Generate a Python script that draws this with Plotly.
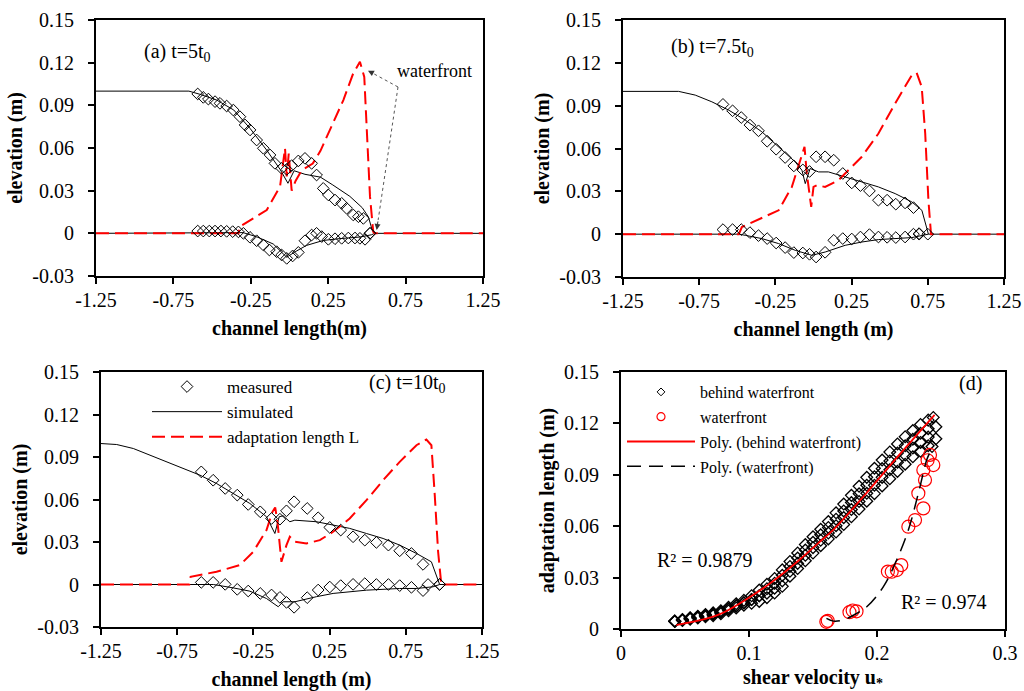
import plotly.graph_objects as go

FONT = "Liberation Serif"

# ---------------- panel (a) t = 5 t0 ----------------
a_meas_up_x = [-0.593, -0.557, -0.524, -0.481, -0.449, -0.406, -0.363, -0.320, -0.287, -0.255, -0.212, -0.169,
               -0.126, -0.094, -0.051, -0.018, 0.014, 0.057, 0.100, 0.143, 0.175, 0.218, 0.251, 0.294, 0.337,
               0.369, 0.412, 0.445, 0.477, 0.520]
a_meas_up_y = [0.098, 0.0956, 0.0944, 0.0926, 0.0914, 0.0895, 0.0867, 0.082, 0.0762, 0.0727, 0.0656, 0.0598,
               0.0551, 0.0492, 0.0457, 0.045, 0.0476, 0.0509, 0.0527, 0.0492, 0.041, 0.0316, 0.027, 0.0234, 0.0211,
               0.0176, 0.0129, 0.0117, 0.0105, 0.0]
a_meas_lo_x = [-0.593, -0.557, -0.518, -0.481, -0.443, -0.406, -0.367, -0.330, -0.298, -0.255, -0.212, -0.169,
               -0.130, -0.083, -0.051, -0.018, 0.020, 0.057, 0.100, 0.143, 0.175, 0.208, 0.251, 0.294, 0.337,
               0.380, 0.423, 0.455, 0.488, 0.520]
a_meas_lo_y = [0.0016, 0.0016, 0.0016, 0.0016, 0.0016, 0.0014, 0.0012, 0.001, 0.0, -0.0028, -0.0052, -0.0082,
               -0.0117, -0.0129, -0.0152, -0.0176, -0.0159, -0.0134, -0.0052, -0.0012, 0.0, -0.0023, -0.0042,
               -0.0038, -0.0035, -0.0033, -0.0033, -0.0035, -0.0042, 0.0]
a_sim_up_x = [-1.25, -0.65, -0.58, -0.47, -0.36, -0.255, -0.148, -0.061, -0.01, 0.03, 0.10, 0.20, 0.28, 0.39,
              0.47, 0.51, 0.535, 0.55]
a_sim_up_y = [0.1, 0.1, 0.0978, 0.0937, 0.0867, 0.0738, 0.0586, 0.0450, 0.0352, 0.0440, 0.0415, 0.0395, 0.034,
              0.026, 0.018, 0.0115, 0.002, 0.0]
a_sim_lo_x = [-1.25, -0.36, -0.30, -0.212, -0.105, -0.018, 0.036, 0.11, 0.218, 0.326, 0.455, 0.53, 0.55, 1.25]
a_sim_lo_y = [0.0, 0.0, 0.0005, -0.0024, -0.0075, -0.0168, -0.013, -0.0085, -0.005, -0.0037, -0.0026, -0.001,
              0.0, 0.0]
a_L_x = [-1.25, -0.33, -0.32, -0.147, -0.061, -0.029, -0.018, -0.005, 0.014, 0.04, 0.08, 0.15, 0.20, 0.24, 0.30,
         0.348, 0.41, 0.455, 0.483, 0.499, 0.520, 0.541, 0.55, 1.25]
a_L_y = [0.0, 0.0, 0.0047, 0.0164, 0.0330, 0.0598, 0.040, 0.056, 0.030, 0.037, 0.0445, 0.049, 0.058, 0.068, 0.082,
         0.0937, 0.112, 0.1207, 0.110, 0.0727, 0.0258, 0.001, 0.0, 0.0]

# ---------------- panel (b) t = 7.5 t0 ----------------
b_meas_up_x = [-0.594, -0.531, -0.474, -0.417, -0.361, -0.304, -0.245, -0.186, -0.129, -0.070, -0.026, 0.017,
               0.076, 0.133, 0.192, 0.251, 0.308, 0.367, 0.426, 0.483, 0.540, 0.601, 0.656, 0.693, 0.750]
b_meas_up_y = [0.0909, 0.0864, 0.0817, 0.0764, 0.0724, 0.0651, 0.0595, 0.0537, 0.0478, 0.045, 0.0439, 0.0542,
               0.0542, 0.0518, 0.0425, 0.0359, 0.034, 0.0303, 0.0238, 0.0238, 0.021, 0.0219, 0.0186, 0.0004, 0.0]
b_meas_lo_x = [-0.594, -0.531, -0.474, -0.417, -0.361, -0.304, -0.245, -0.186, -0.129, -0.070, -0.026, 0.017,
               0.076, 0.133, 0.192, 0.251, 0.308, 0.367, 0.426, 0.483, 0.540, 0.601, 0.656, 0.693]
b_meas_lo_y = [0.0032, 0.0032, 0.0032, 0.0011, -0.001, -0.0031, -0.0062, -0.0094, -0.0129, -0.0132, -0.0141,
               -0.016, -0.0127, -0.0043, -0.0031, -0.0034, -0.002, -0.0003, -0.002, -0.0022, -0.0024, -0.002,
               0.0, 0.0]
b_sim_up_x = [-1.25, -0.885, -0.776, -0.667, -0.557, -0.448, -0.339, -0.229, -0.120, -0.076, -0.054, -0.022,
              0.033, 0.098, 0.208, 0.317, 0.426, 0.536, 0.645, 0.711, 0.733, 0.754]
b_sim_up_y = [0.1, 0.1, 0.0974, 0.0927, 0.0869, 0.0799, 0.0717, 0.0612, 0.0506, 0.0448, 0.0354, 0.046, 0.0436,
              0.0436, 0.0401, 0.0366, 0.0331, 0.0284, 0.0226, 0.0167, 0.0085, 0.0]
b_sim_lo_x = [-1.25, -0.49, -0.448, -0.339, -0.229, -0.12, -0.011, 0.077, 0.208, 0.317, 0.426, 0.536, 0.645,
              0.754, 1.25]
b_sim_lo_y = [0.0, 0.0, -0.0008, -0.0031, -0.0066, -0.0113, -0.0148, -0.0125, -0.0078, -0.0055, -0.0038,
              -0.0029, -0.0024, 0.0, 0.0]
b_L_x = [-1.25, -0.49, -0.47, -0.229, -0.142, -0.076, -0.059, -0.044, -0.015, 0.0, 0.022, 0.076, 0.164, 0.317,
         0.426, 0.536, 0.645, 0.677, 0.71, 0.733, 0.754, 0.771, 1.25]
b_L_y = [0.0, 0.0, 0.005, 0.0167, 0.0331, 0.0542, 0.0612, 0.0425, 0.0191, 0.0331, 0.0343, 0.0331, 0.0378, 0.0542,
         0.0705, 0.0916, 0.1114, 0.113, 0.1032, 0.0705, 0.0238, 0.0, 0.0]

# ---------------- panel (c) t = 10 t0 ----------------
c_meas_up_x = [-0.592, -0.514, -0.435, -0.356, -0.284, -0.205, -0.131, -0.076, -0.033, 0.017, 0.103, 0.175,
               0.251, 0.323, 0.404, 0.481, 0.557, 0.636, 0.710, 0.787, 0.863, 0.972]
c_meas_up_y = [0.0795, 0.0736, 0.0678, 0.0631, 0.0565, 0.0513, 0.0466, 0.0461, 0.052, 0.0584, 0.0537, 0.0471,
               0.0403, 0.0384, 0.0337, 0.0313, 0.0297, 0.0278, 0.0238, 0.0219, 0.0142, 0.0001]
c_meas_lo_x = [-0.592, -0.514, -0.435, -0.356, -0.284, -0.205, -0.131, -0.076, -0.033, 0.017, 0.103, 0.175,
               0.251, 0.323, 0.404, 0.481, 0.557, 0.636, 0.710, 0.787, 0.863, 0.896, 0.972]
c_meas_lo_y = [0.0015, 0.0015, 0.0001, -0.0034, -0.0046, -0.0063, -0.0074, -0.0091, -0.0126, -0.0161, -0.0093,
               -0.0039, -0.0018, -0.0008, 0.0001, 0.0006, 0.0, 0.0, -0.0008, -0.002, -0.0043, 0.0, 0.0]
c_sim_up_x = [-1.25, -1.147, -1.038, -0.929, -0.82, -0.71, -0.601, -0.492, -0.382, -0.273, -0.164, -0.109,
              -0.081, -0.055, -0.011, 0.022, 0.164, 0.273, 0.382, 0.492, 0.601, 0.71, 0.82, 0.918, 0.951, 0.972]
c_sim_up_y = [0.0995, 0.0988, 0.096, 0.0913, 0.0866, 0.0819, 0.0772, 0.0713, 0.0642, 0.0572, 0.0478, 0.036,
              0.0478, 0.0485, 0.0443, 0.0454, 0.0443, 0.0419, 0.0396, 0.036, 0.0325, 0.0278, 0.0219, 0.016,
              0.0066, 0.0]
c_sim_lo_x = [-1.25, -0.513, -0.382, -0.273, -0.164, -0.087, -0.055, 0.022, 0.164, 0.273, 0.492, 0.71, 0.82,
              0.929, 0.972, 1.25]
c_sim_lo_y = [0.0, 0.0, -0.0024, -0.0047, -0.0099, -0.0157, -0.0122, -0.0122, -0.0086, -0.0063, -0.004, -0.0028,
              -0.0028, -0.0016, 0.0, 0.0]
c_L_x = [-1.25, -0.671, -0.662, -0.492, -0.339, -0.251, -0.164, -0.125, -0.107, -0.092, -0.066, -0.033, -0.011,
         0.022, 0.098, 0.186, 0.273, 0.382, 0.492, 0.601, 0.71, 0.82, 0.885, 0.918, 0.94, 0.962, 0.983, 1.25]
c_L_y = [0.0, 0.0, 0.0054, 0.009, 0.0137, 0.0231, 0.0384, 0.0513, 0.0544, 0.0443, 0.016, 0.0278, 0.0337, 0.0302,
         0.029, 0.0313, 0.0372, 0.0466, 0.0595, 0.0736, 0.0866, 0.0983, 0.1023, 0.0983, 0.0631, 0.0231, 0.0, 0.0]

# ---------------- panel (d) adaptation length vs shear velocity ----------------
bw_x = [0.042, 0.048, 0.054, 0.060, 0.066, 0.072, 0.078, 0.084, 0.090, 0.096, 0.102, 0.108, 0.114, 0.120,
        0.126, 0.132, 0.138, 0.144, 0.150, 0.156, 0.162, 0.168, 0.174, 0.180, 0.186, 0.192, 0.198, 0.204,
        0.210, 0.216, 0.222, 0.228, 0.234, 0.240]
bw_top = [0.0047, 0.0056, 0.0066, 0.0075, 0.0085, 0.0094, 0.0107, 0.0127, 0.0147, 0.0167, 0.0194, 0.0227,
          0.0261, 0.0295, 0.0345, 0.0394, 0.0444, 0.0493, 0.0538, 0.0582, 0.0627, 0.0678, 0.0729, 0.0780,
          0.0833, 0.0885, 0.0938, 0.0986, 0.1033, 0.1080, 0.1122, 0.1158, 0.1194, 0.1219]
bw_mid1 = [0.0045, 0.0053, 0.0062, 0.0070, 0.0078, 0.0086, 0.0098, 0.0117, 0.0135, 0.0153, 0.0172, 0.0194,
           0.0235, 0.0267, 0.0313, 0.0365, 0.0414, 0.0461, 0.0506, 0.0550, 0.0593, 0.0641, 0.0689, 0.0738,
           0.0789, 0.0839, 0.0889, 0.0936, 0.0981, 0.1027, 0.1069, 0.1107, 0.1142, 0.1169]
bw_mid2 = [0.0045, 0.0053, 0.0062, 0.0070, 0.0078, 0.0086, 0.0098, 0.0117, 0.0135, 0.0153, 0.0172, 0.0194,
           0.0209, 0.0238, 0.0281, 0.0337, 0.0383, 0.0430, 0.0475, 0.0518, 0.0560, 0.0603, 0.0650, 0.0697,
           0.0744, 0.0792, 0.0839, 0.0885, 0.0929, 0.0973, 0.1015, 0.1056, 0.1089, 0.1120]
bw_bot = [0.0044, 0.0050, 0.0057, 0.0064, 0.0071, 0.0078, 0.0089, 0.0106, 0.0123, 0.0139, 0.0150, 0.0161,
          0.0183, 0.0210, 0.0249, 0.0308, 0.0353, 0.0398, 0.0443, 0.0486, 0.0526, 0.0566, 0.0610, 0.0655,
          0.0700, 0.0746, 0.0790, 0.0835, 0.0877, 0.0920, 0.0962, 0.1005, 0.1037, 0.1070]
bw_end_x = [0.244, 0.246, 0.246, 0.243]
bw_end_y = [0.1235, 0.118, 0.111, 0.1065]

wf_x = [0.1604, 0.1615, 0.1785, 0.181, 0.184, 0.2085, 0.2115, 0.2155, 0.219, 0.2245, 0.2297, 0.2362, 0.2323,
        0.2375, 0.2362, 0.2395, 0.2414, 0.244]
wf_y = [0.0042, 0.0048, 0.0098, 0.0108, 0.0103, 0.0335, 0.0334, 0.0344, 0.0373, 0.0597, 0.0636, 0.0704, 0.0792,
        0.087, 0.0928, 0.0985, 0.1016, 0.0957]

poly_bw_x = [0.0432, 0.0758, 0.0992, 0.120, 0.1409, 0.1539, 0.166, 0.189, 0.215, 0.245]
poly_bw_y = [0.0023, 0.0082, 0.0179, 0.0286, 0.0413, 0.050, 0.058, 0.077, 0.0996, 0.125]
poly_wf_x = [0.1605, 0.166, 0.1737, 0.182, 0.192, 0.205, 0.2154, 0.2245, 0.2323, 0.2388, 0.241]
poly_wf_y = [0.0062, 0.0046, 0.0053, 0.0082, 0.013, 0.0247, 0.0403, 0.0578, 0.0792, 0.0986, 0.1025]

# tick labels
xl_vals = [-1.25, -0.75, -0.25, 0.25, 0.75, 1.25]
xl_text = ["-1.25", "-0.75", "-0.25", "0.25", "0.75", "1.25"]
ye_vals = [-0.03, 0.0, 0.03, 0.06, 0.09, 0.12, 0.15]
ye_text = ["-0.03", "0", "0.03", "0.06", "0.09", "0.12", "0.15"]
xd_vals = [0.0, 0.1, 0.2, 0.3]
xd_text = ["0", "0.1", "0.2", "0.3"]
yd_vals = [0.0, 0.03, 0.06, 0.09, 0.12, 0.15]
yd_text = ["0", "0.03", "0.06", "0.09", "0.12", "0.15"]

RED = "#ff0000"
fig = go.Figure()

panels = [
    ("x", "y", a_meas_up_x, a_meas_up_y, a_meas_lo_x, a_meas_lo_y, a_sim_up_x, a_sim_up_y, a_sim_lo_x, a_sim_lo_y, a_L_x, a_L_y),
    ("x2", "y2", b_meas_up_x, b_meas_up_y, b_meas_lo_x, b_meas_lo_y, b_sim_up_x, b_sim_up_y, b_sim_lo_x, b_sim_lo_y, b_L_x, b_L_y),
    ("x3", "y3", c_meas_up_x, c_meas_up_y, c_meas_lo_x, c_meas_lo_y, c_sim_up_x, c_sim_up_y, c_sim_lo_x, c_sim_lo_y, c_L_x, c_L_y),
]
for i, (xa, ya, mux, muy, mlx, mly, sux, suy, slx, sly, lx, ly) in enumerate(panels):
    fig.add_trace(go.Scatter(x=sux + [None] + slx, y=suy + [None] + sly, xaxis=xa, yaxis=ya, mode="lines",
                             line=dict(color="black", width=1), name="simulated", showlegend=False,
                             connectgaps=False))
    fig.add_trace(go.Scatter(x=lx, y=ly, xaxis=xa, yaxis=ya, mode="lines",
                             line=dict(color=RED, width=2, dash="13px,6px"), name="adaptation length L",
                             showlegend=False))
    fig.add_trace(go.Scatter(x=mux + mlx, y=muy + mly, xaxis=xa, yaxis=ya, mode="markers",
                             marker=dict(symbol="diamond-open", size=9, color="black", line=dict(width=1)),
                             name="measured", showlegend=False))

# legend entries for panel (c)
fig.add_trace(go.Scatter(x=[None], y=[None], xaxis="x3", yaxis="y3", mode="markers", name="measured",
                         marker=dict(symbol="diamond-open", size=9, color="black", line=dict(width=1)),
                         legend="legend"))
fig.add_trace(go.Scatter(x=[None], y=[None], xaxis="x3", yaxis="y3", mode="lines", name="simulated",
                         line=dict(color="black", width=1), legend="legend"))
fig.add_trace(go.Scatter(x=[None], y=[None], xaxis="x3", yaxis="y3", mode="lines", name="adaptation length L",
                         line=dict(color=RED, width=2, dash="13px,6px"), legend="legend"))

# panel (d)
dmk = dict(symbol="diamond-open", size=9, color="black", line=dict(width=1.3))
for yy in (bw_top, bw_mid1, bw_mid2, bw_bot):
    fig.add_trace(go.Scatter(x=bw_x, y=yy, xaxis="x4", yaxis="y4", mode="markers", marker=dmk,
                             showlegend=False))
fig.add_trace(go.Scatter(x=bw_end_x, y=bw_end_y, xaxis="x4", yaxis="y4", mode="markers", marker=dmk,
                         showlegend=False))
fig.add_trace(go.Scatter(x=poly_bw_x, y=poly_bw_y, xaxis="x4", yaxis="y4", mode="lines",
                         line=dict(color=RED, width=1.8, shape="spline"), showlegend=False))
fig.add_trace(go.Scatter(x=wf_x, y=wf_y, xaxis="x4", yaxis="y4", mode="markers",
                         marker=dict(symbol="circle-open", size=13, color=RED, line=dict(width=1.2)),
                         showlegend=False))
fig.add_trace(go.Scatter(x=poly_wf_x, y=poly_wf_y, xaxis="x4", yaxis="y4", mode="lines",
                         line=dict(color="black", width=1.5, dash="14px,8px", shape="spline"), showlegend=False))

# legend entries for panel (d)
fig.add_trace(go.Scatter(x=[None], y=[None], xaxis="x4", yaxis="y4", mode="markers", name="behind waterfront",
                         marker=dict(symbol="diamond-open", size=6, color="black", line=dict(width=1)),
                         legend="legend2", legendgroup="g1"))
fig.add_trace(go.Scatter(x=[None], y=[None], xaxis="x4", yaxis="y4", mode="markers", name="waterfront",
                         marker=dict(symbol="circle-open", size=8, color=RED, line=dict(width=1.2)),
                         legend="legend2", legendgroup="g2"))
fig.add_trace(go.Scatter(x=[None], y=[None], xaxis="x4", yaxis="y4", mode="lines",
                         name="Poly. (behind waterfront)", line=dict(color=RED, width=1.8),
                         legend="legend2", legendgroup="g3"))
fig.add_trace(go.Scatter(x=[None], y=[None], xaxis="x4", yaxis="y4", mode="lines", name="Poly. (waterfront)",
                         line=dict(color="black", width=1.5, dash="14px,8px"), legend="legend2",
                         legendgroup="g4"))

tickfont = dict(family=FONT, size=20, color="black")
titlefont = dict(family=FONT, size=20, color="black")


def ax(anchor, domain, rng, vals, text, title, standoff, lblstand):
    return dict(anchor=anchor, domain=domain, range=rng, tickvals=vals, ticktext=text, showline=True,
                linecolor="black", linewidth=2, mirror=True, ticks="outside", ticklen=6, tickwidth=2,
                tickcolor="black", showgrid=False, zeroline=False, tickfont=tickfont, automargin=False,
                ticklabelstandoff=lblstand,
                title=dict(text=title, font=titlefont, standoff=standoff))


W, H = 1024, 691
XS, XL = 11, -1   # x-title standoff, x tick label standoff
YS, YL = 4, 10
fig.update_layout(
    width=W, height=H, margin=dict(l=0, r=0, t=0, b=0), paper_bgcolor="white", plot_bgcolor="white",
    font=dict(family=FONT, color="black"),
    xaxis=ax("y", [96 / W, 483 / W], [-1.25, 1.25], xl_vals, xl_text, "<b>channel length(m)</b>", XS, XL),
    yaxis=ax("x", [1 - 276 / H, 1 - 20 / H], [-0.03, 0.15], ye_vals, ye_text, "<b>elevation (m)</b>", YS, YL),
    xaxis2=ax("y2", [623 / W, 1004 / W], [-1.25, 1.25], xl_vals, xl_text, "<b>channel length (m)</b>", XS, XL),
    yaxis2=ax("x2", [1 - 277 / H, 1 - 20 / H], [-0.03, 0.15], ye_vals, ye_text, "<b>elevation (m)</b>", YS, YL),
    xaxis3=ax("y3", [101 / W, 482 / W], [-1.25, 1.25], xl_vals, xl_text, "<b>channel length (m)</b>", XS, XL),
    yaxis3=ax("x3", [1 - 627 / H, 1 - 372 / H], [-0.03, 0.15], ye_vals, ye_text, "<b>elevation (m)</b>", YS, YL),
    xaxis4=ax("y4", [621 / W, 1005 / W], [0, 0.3], xd_vals, xd_text, "<b>shear velocity u<sub>*</sub></b>", XS, XL),
    yaxis4=ax("x4", [1 - 629 / H, 1 - 372 / H], [0, 0.15], yd_vals, yd_text, "<b>adaptation length (m)</b>", YS, YL),
    legend=dict(x=147 / W, y=1 - 369 / H, xanchor="left", yanchor="top", bgcolor="rgba(0,0,0,0)",
                font=dict(family=FONT, size=17, color="black"), itemwidth=70, traceorder="normal"),
    legend2=dict(x=622 / W, y=1 - 375 / H, xanchor="left", yanchor="top", bgcolor="rgba(0,0,0,0)",
                 font=dict(family=FONT, size=16, color="black"), itemwidth=68, traceorder="grouped",
                 tracegroupgap=1),
)

ann_font = dict(family=FONT, size=20, color="black")
fig.add_annotation(x=-0.953, y=0.1275, xref="x", yref="y", text="(a) t=5t<sub>0</sub>", showarrow=False,
                   xanchor="left", font=ann_font)
fig.add_annotation(x=-0.95, y=0.1304, xref="x2", yref="y2", text="(b) t=7.5t<sub>0</sub>", showarrow=False,
                   xanchor="left", font=ann_font)
fig.add_annotation(x=0.493, y=0.142, xref="x3", yref="y3", text="(c) t=10t<sub>0</sub>", showarrow=False,
                   xanchor="left", font=ann_font)
fig.add_annotation(x=0.2625, y=0.1434, xref="x4", yref="y4", text="(d)", showarrow=False, xanchor="left",
                   font=dict(family=FONT, size=20, color="black"))
fig.add_annotation(x=0.0268, y=0.0403, xref="x4", yref="y4", text="R² = 0.9879", showarrow=False,
                   xanchor="left", font=dict(family=FONT, size=20, color="black"))
fig.add_annotation(x=0.217, y=0.016, xref="x4", yref="y4", text="R² = 0.974", showarrow=False,
                   xanchor="left", font=dict(family=FONT, size=20, color="black"))
fig.add_annotation(x=0.6815, y=0.1141, xref="x", yref="y", text="waterfront", showarrow=False,
                   xanchor="left", font=dict(family=FONT, size=18, color="black"))

# waterfront pointer (dotted lines + arrow heads)
start = (0.701, 0.1029)
heads = [(0.507, 0.1144, 0.536, 0.1127), (0.563, 0.0024, 0.5727, 0.0094)]
for hx, hy, tx, ty in heads:
    fig.add_shape(type="line", xref="x", yref="y", x0=start[0], y0=start[1], x1=tx, y1=ty,
                  line=dict(color="#555555", width=1, dash="dot"))
    fig.add_annotation(x=hx, y=hy, ax=tx, ay=ty, xref="x", yref="y", axref="x", ayref="y", text="",
                       showarrow=True, arrowhead=2, arrowsize=1.2, arrowwidth=1, arrowcolor="#333333")

fig.write_html("out.html", config={"displayModeBar": False},
               post_script="document.body.style.margin='0px';document.body.style.overflow='hidden';")
